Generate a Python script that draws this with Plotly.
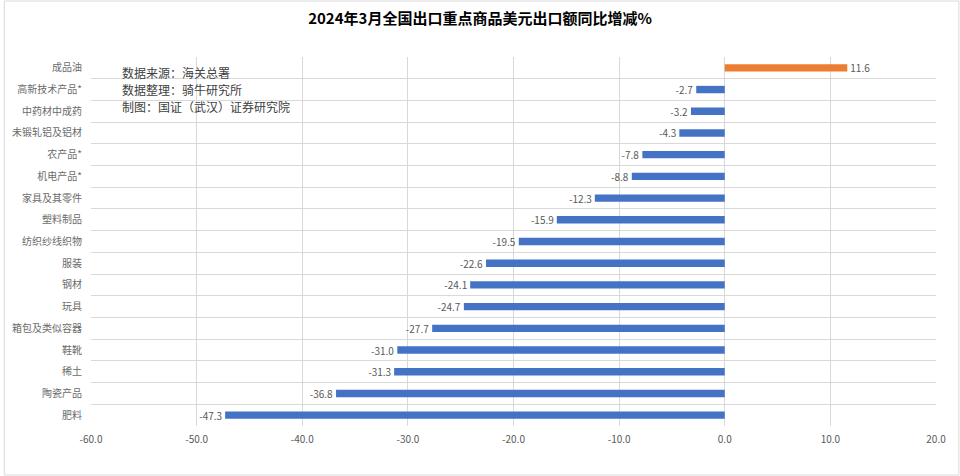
import plotly.graph_objects as go

categories = ["成品油", "高新技术产品*", "中药材中成药", "未锻轧铝及铝材", "农产品*", "机电产品*",
              "家具及其零件", "塑料制品", "纺织纱线织物", "服装", "钢材", "玩具",
              "箱包及类似容器", "鞋靴", "稀土", "陶瓷产品", "肥料"]
values = [11.6, -2.7, -3.2, -4.3, -7.8, -8.8, -12.3, -15.9, -19.5, -22.6, -24.1, -24.7,
          -27.7, -31.0, -31.3, -36.8, -47.3]
x_ticks = [-60, -50, -40, -30, -20, -10, 0, 10, 20]

title = "2024年3月全国出口重点商品美元出口额同比增减%"
note_lines = ["数据来源：海关总署", "数据整理：骑牛研究所", "制图：国证（武汉）证券研究院"]

FONT = "Noto Sans CJK SC"
colors = ["#ED7D31" if v > 0 else "#4472C4" for v in values]
ypos = list(range(len(categories)))

fig = go.Figure(go.Bar(
    x=values, y=ypos, orientation="h",
    marker=dict(color=colors, line=dict(width=0)),
    width=0.34,
    text=values, texttemplate="%{x:.1f}", textposition="outside",
    constraintext="none",
    textfont=dict(family=FONT, size=10, color="#595959"),
    cliponaxis=False,
))

L, R, T, B = 88, 24, 57, 50
W, H = 960, 476
pw, ph = W - L - R, H - T - B
fig.update_layout(
    width=W, height=H,
    margin=dict(l=L, r=R, t=T, b=B),
    paper_bgcolor="white", plot_bgcolor="white",
    font=dict(family=FONT, color="#595959"),
    showlegend=False,
    title=dict(text="<b>" + title + "</b>", x=0.5, xanchor="center", y=1 - 19 / H, yanchor="middle",
               font=dict(family=FONT, size=15, color="#000000")),
    xaxis=dict(range=[-60, 20], tickvals=x_ticks, ticktext=[f"{v:.1f}" for v in x_ticks],
               showgrid=True, gridcolor="#d9d9d9", gridwidth=1, zeroline=False,
               showline=False, ticks="", ticklabelstandoff=6,
               tickfont=dict(family=FONT, size=10, color="#595959")),
    yaxis=dict(range=[len(categories) - 0.5, -0.5], tickvals=ypos, ticktext=categories,
               showgrid=False, zeroline=False, showline=False, ticks="",
               ticklabelstandoff=8,
               tickfont=dict(family=FONT, size=10, color="#6b6b6b"),
               minor=dict(tick0=0.5, dtick=1, showgrid=True, gridcolor="#d9d9d9", gridwidth=1, ticks="")),
)

for i, line in enumerate(note_lines):
    yc = 72 + i * 17.5
    fig.add_annotation(text=line, xref="paper", yref="paper", x=(118 - L) / pw,
                       y=1 - (yc - T) / ph, xanchor="left", yanchor="middle", align="left",
                       showarrow=False, borderpad=0,
                       font=dict(family=FONT, size=12, color="#404040"))

# outer chart border
fig.add_shape(type="rect", xref="paper", yref="paper",
              x0=-(L - 1) / pw, x1=1 + (R - 1) / pw, y0=-(B - 1) / ph, y1=1 + (T - 1) / ph,
              line=dict(color="#d9d9d9", width=1), layer="below")

fig.write_html("out.html")
